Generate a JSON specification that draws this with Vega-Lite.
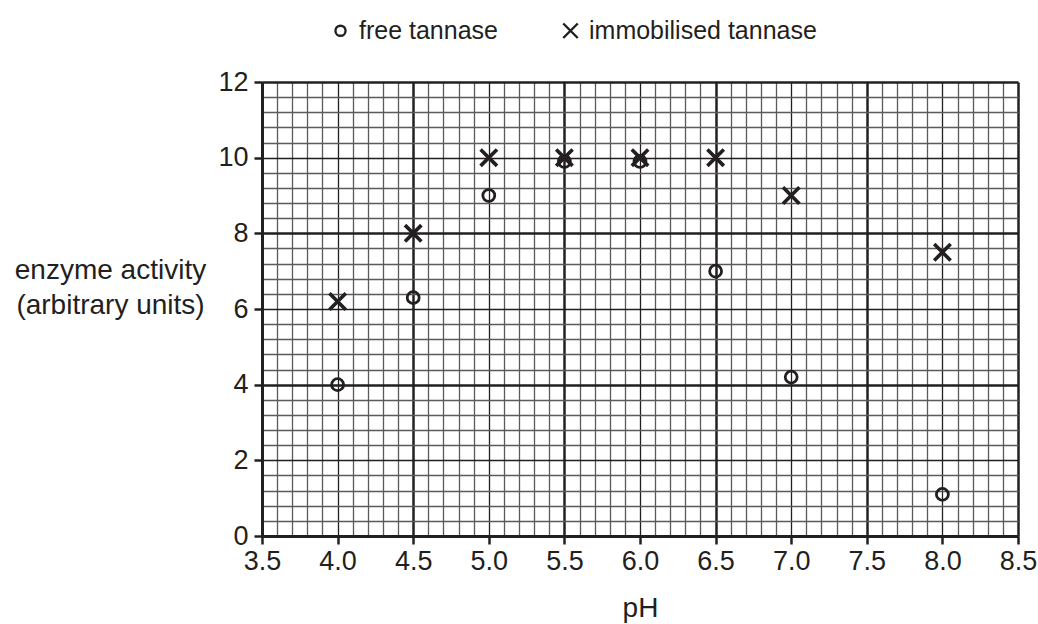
{
  "$schema": "https://vega.github.io/schema/vega-lite/v6.json",
  "width": 756,
  "height": 454,
  "autosize": {"type": "none"},
  "padding": {"left": 262, "top": 82, "right": 20, "bottom": 88},
  "background": "white",
  "config": {
    "view": {"stroke": null},
    "font": "Liberation Sans"
  },
  "data": {
    "values": [
      {"pH": 4.0, "activity": 4.0, "enzyme": "free tannase"},
      {"pH": 4.5, "activity": 6.3, "enzyme": "free tannase"},
      {"pH": 5.0, "activity": 9.0, "enzyme": "free tannase"},
      {"pH": 5.5, "activity": 9.9, "enzyme": "free tannase"},
      {"pH": 6.0, "activity": 9.9, "enzyme": "free tannase"},
      {"pH": 6.5, "activity": 7.0, "enzyme": "free tannase"},
      {"pH": 7.0, "activity": 4.2, "enzyme": "free tannase"},
      {"pH": 8.0, "activity": 1.1, "enzyme": "free tannase"},
      {"pH": 4.0, "activity": 6.2, "enzyme": "immobilised tannase"},
      {"pH": 4.5, "activity": 8.0, "enzyme": "immobilised tannase"},
      {"pH": 5.0, "activity": 10.0, "enzyme": "immobilised tannase"},
      {"pH": 5.5, "activity": 10.0, "enzyme": "immobilised tannase"},
      {"pH": 6.0, "activity": 10.0, "enzyme": "immobilised tannase"},
      {"pH": 6.5, "activity": 10.0, "enzyme": "immobilised tannase"},
      {"pH": 7.0, "activity": 9.0, "enzyme": "immobilised tannase"},
      {"pH": 8.0, "activity": 7.5, "enzyme": "immobilised tannase"}
    ]
  },
  "encoding": {
    "x": {
      "field": "pH",
      "type": "quantitative",
      "scale": {"domain": [3.5, 8.5], "nice": false, "zero": false},
      "axis": {
        "values": [3.5,3.6,3.7,3.8,3.9,4.0,4.1,4.2,4.3,4.4,4.5,4.6,4.7,4.8,4.9,5.0,5.1,5.2,5.3,5.4,5.5,5.6,5.7,5.8,5.9,6.0,6.1,6.2,6.3,6.4,6.5,6.6,6.7,6.8,6.9,7.0,7.1,7.2,7.3,7.4,7.5,7.6,7.7,7.8,7.9,8.0,8.1,8.2,8.3,8.4,8.5],
        "tickCount": 500,
        "labelExpr": "abs(datum.value*2 - round(datum.value*2)) < 0.01 ? format(datum.value, '.1f') : ''",
        "labelOverlap": false,
        "labelFlush": false,
        "labelFontSize": 27,
        "labelColor": "#231f20",
        "labelPadding": 4,
        "tickSize": 8,
        "tickWidth": 2.5,
        "tickColor": {"condition": {"test": "abs(datum.value*2 - round(datum.value*2)) < 0.01", "value": "#231f20"}, "value": "transparent"},
        "domainColor": "#231f20",
        "domainWidth": 3,
        "grid": true,
        "gridOpacity": 1,
        "gridColor": {"condition": {"test": "abs(datum.value*2 - round(datum.value*2)) < 0.01", "value": "#231f20"}, "value": "#5a5a5a"},
        "gridWidth": {"condition": {"test": "abs((datum.value - 0.5) - round(datum.value - 0.5)) < 0.01", "value": 2.5}, "value": 1.3},
        "title": "pH",
        "titleFontSize": 28,
        "titleFontWeight": "normal",
        "titleColor": "#231f20",
        "titleX": 378,
        "titleY": 80,
        "titleAlign": "center",
        "titleBaseline": "alphabetic"
      }
    },
    "y": {
      "field": "activity",
      "type": "quantitative",
      "scale": {"domain": [0, 12], "nice": false},
      "axis": {
        "values": [0,0.4,0.8,1.2,1.6,2,2.4,2.8,3.2,3.6,4,4.4,4.8,5.2,5.6,6,6.4,6.8,7.2,7.6,8,8.4,8.8,9.2,9.6,10,10.4,10.8,11.2,11.6,12],
        "tickCount": 500,
        "labelExpr": "abs(datum.value/2 - round(datum.value/2)) < 0.01 ? format(datum.value, 'd') : ''",
        "labelOverlap": false,
        "labelFlush": false,
        "labelFontSize": 27,
        "labelColor": "#231f20",
        "labelPadding": 6,
        "tickSize": 8,
        "tickWidth": 2.5,
        "tickColor": {"condition": {"test": "abs(datum.value/2 - round(datum.value/2)) < 0.01", "value": "#231f20"}, "value": "transparent"},
        "domainColor": "#231f20",
        "domainWidth": 3,
        "grid": true,
        "gridOpacity": 1,
        "gridColor": {"condition": {"test": "abs(datum.value/2 - round(datum.value/2)) < 0.01", "value": "#231f20"}, "value": "#5a5a5a"},
        "gridWidth": {"condition": {"test": "abs(datum.value/4 - round(datum.value/4)) < 0.01", "value": 2.5}, "value": 1.3},
        "title": ["enzyme activity", "(arbitrary units)"],
        "titleFontSize": 28,
        "titleFontWeight": "normal",
        "titleColor": "#231f20",
        "titleAngle": 0,
        "titleAlign": "center",
        "titleBaseline": "middle",
        "titleLineHeight": 35,
        "titleX": -152,
        "titleY": 188
      }
    },
    "shape": {
      "field": "enzyme",
      "type": "nominal",
      "scale": {
        "domain": ["free tannase", "immobilised tannase"],
        "range": ["M0.7,0A0.7,0.7,0,1,1,-0.7,0A0.7,0.7,0,1,1,0.7,0Z", "M-1,-1L1,1M-1,1L1,-1"]
      },
      "legend": {
        "title": null,
        "orient": "none",
        "direction": "horizontal",
        "legendX": 66,
        "legendY": -64,
        "padding": 0,
        "columnPadding": 60,
        "labelFontSize": 25,
        "labelLimit": 0,
        "labelColor": "#231f20",
        "labelOffset": 6,
        "symbolSize": 210,
        "symbolStrokeWidth": 2.4,
        "symbolStrokeColor": "#231f20",
        "symbolFillColor": "transparent",
        "symbolOpacity": 1
      }
    }
  },
  "layer": [
    {
      "transform": [{"filter": "datum.enzyme === 'free tannase'"}],
      "mark": {"type": "point", "filled": false, "color": "#231f20", "strokeWidth": 2.8, "size": 290, "opacity": 1}
    },
    {
      "transform": [{"filter": "datum.enzyme === 'immobilised tannase'"}],
      "mark": {"type": "point", "filled": false, "color": "#231f20", "strokeWidth": 3.6, "size": 270, "opacity": 1}
    }
  ]
}
